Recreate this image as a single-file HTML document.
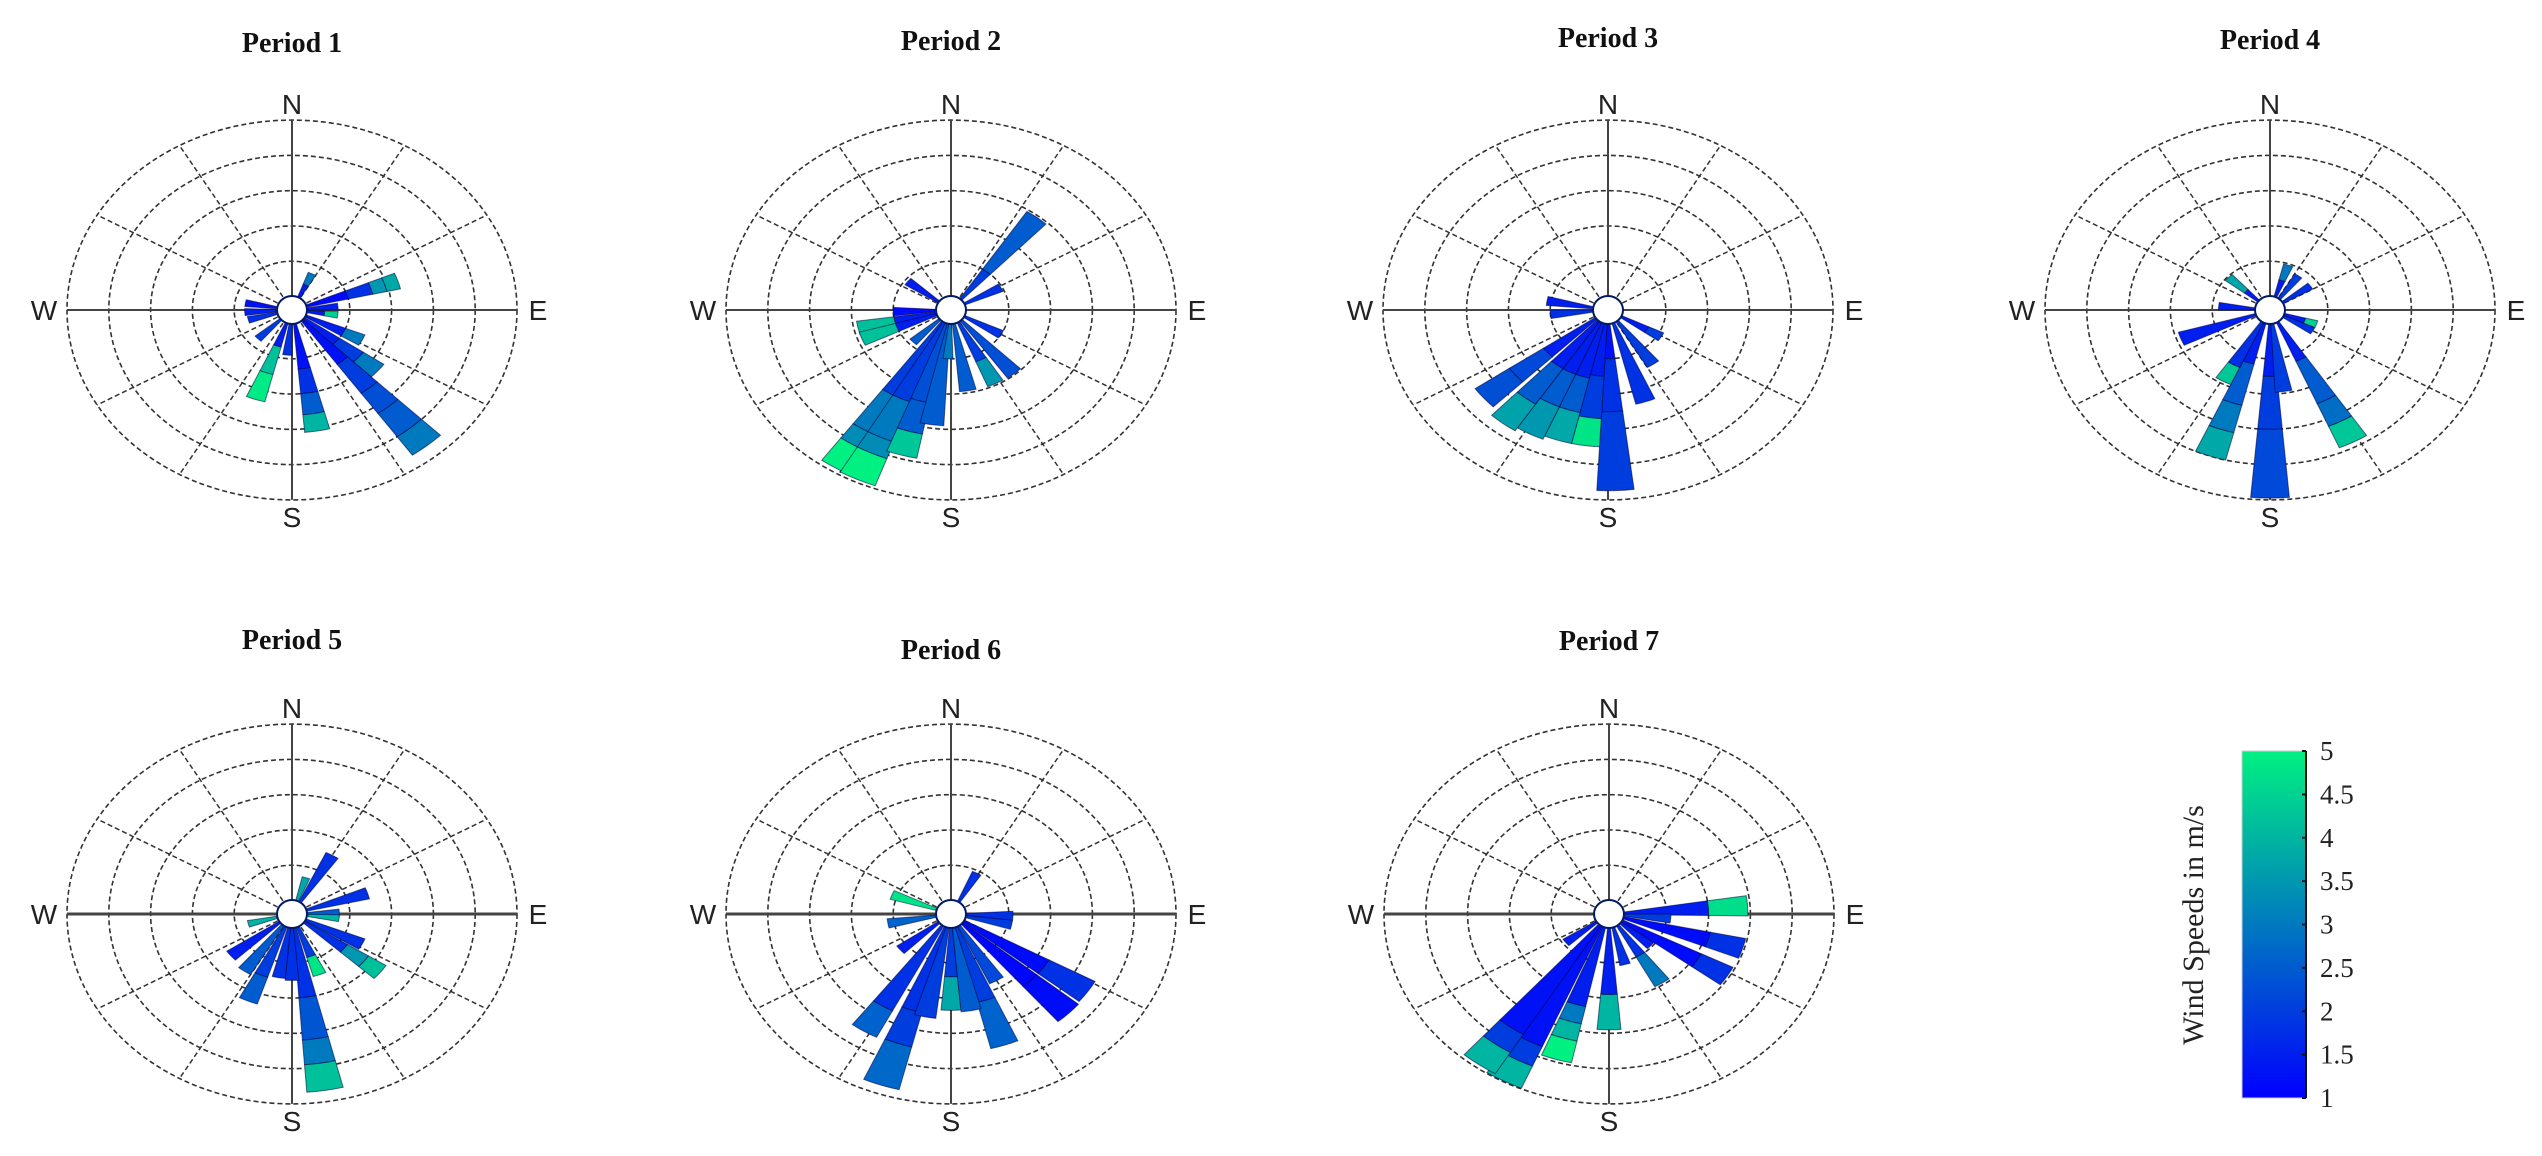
<!DOCTYPE html>
<html><head><meta charset="utf-8"><style>
html,body{margin:0;padding:0;background:#fff;}
svg{display:block}
</style></head><body>
<svg id="chart" xmlns="http://www.w3.org/2000/svg" width="2542" height="1156" viewBox="0 0 2542 1156">
<defs>
<linearGradient id="cbar" x1="0" y1="1" x2="0" y2="0">
<stop offset="0" stop-color="rgb(0,0,255)"/><stop offset="0.5" stop-color="rgb(0,122,191)"/><stop offset="1" stop-color="rgb(0,240,130)"/>
</linearGradient>
</defs>
<g id="roses"></g>
<g>
<rect x="2242" y="751" width="64" height="347" fill="url(#cbar)" stroke="#ccc" stroke-width="1"/>
<line x1="2306" y1="751" x2="2306" y2="1098" stroke="#111" stroke-width="2"/>
<g id="cbticks"></g>
<text transform="translate(2203,925) rotate(-90)" text-anchor="middle" font-family="Liberation Serif, serif" font-size="30" fill="#222">Wind Speeds in m/s</text>
</g>
</svg>
<script>
const centers = [[292,310],[951,310],[1608,310],[2270,310],[292,914],[951,914],[1609,914]];
const titleY = [43,41,38,40,640,650,641];
const titles = ["Period 1","Period 2","Period 3","Period 4","Period 5","Period 6","Period 7"];

const p1Dir = [25,72,85,97,280,267,255,225,199,185,170,117,130,140];
const p1Seg = [[0.4,0.35],[1.0,0.6,0.35,0.33],[0.72],[0.4,0.32],[0.75],[0.75],[0.7],[0.77],[0.7,0.8,0.8],[0.9],[1.3,0.7,0.6,0.5],[1.0,0.5],[1.0,0.7,0.6],[1.5,1.0,0.7,0.8,0.64]];
const p1Spd = [[1.5,3],[1.2,1.8,3.5,3.8],[1.5],[1.5,4.5],[1.3],[1.5],[1.8],[2],[1.5,4.2,4.9],[1.8],[1.3,1.8,2.5,4.0],[1.5,3],[1.5,2,3],[1.3,2,2.3,2.5,3]];

const p2Dir = [38,62,308,268,257,249,225,211,205,196,188,183,170,153,140,120];
const p2Seg = [[1,1.95],[0.97],[0.93],[1.0],[1.0,0.9],[1.0,0.9],[0.9],[2.4,1.2,0.5,0.78],[2.4,1.2,0.5,0.82],[2.3,0.9,0.7],[2.9],[1.0],[1.94],[1.2,0.76],[1.97],[1.0]];
const p2Spd = [[2,2.5],[1.8],[1.5],[1.2],[1.5,4.2],[1.5,4.2],[2.5],[2,3,3.3,5],[2,3,3.3,5],[2.3,2.5,4.3],[2.5],[3],[2.5],[2,3.5],[2.3],[1.8]];

const p3Dir = [280,265,121,145,161,178,188,198,208,218,230];
const p3Seg = [[1.1],[1.0],[0.7,0.4],[1.5],[2.37],[1.0,1.5,2.24],[1.5,1.2,0.8],[1.6,1.0,0.9],[1.6,1.0,1.0],[1.6,1.2,0.9],[1.5,1.0,1.0]];
const p3Spd = [[1.5],[1.8],[1.5,2],[2],[1.8],[1.3,1.8,2],[1.5,2,4.8],[1.5,2.5,3.8],[1.5,2.5,3.5],[1.5,2.5,3.7],[1.5,2.2,2.3]];

const p4Dir = [180,172,199,152,209,249,275,313,19,35,55,110,120];
const p4Seg = [[1.5,1.5,1.95],[1.95],[1.2,1.2,0.8,0.8],[1.2,1.3,0.7,0.66],[1.4,0.53],[1.9],[0.85],[0.4,0.57],[0.5,0.46],[0.8],[0.8],[0.5,0.3],[0.8]];
const p4Spd = [[1.5,2,2.2],[2],[1.5,2.5,3,3.8],[1.5,2.5,2.8,4.3],[1.8,4.3],[1.5],[1.5],[1.5,3.8],[1.5,3],[2],[1.8],[1.5,4.5],[1.8]];

const p5Dir = [30,18,72,88,96,117,128,159,171,180,190,203,215,231,255];
const p5Seg = [[1.54],[0.7],[1.52],[0.75],[0.75],[1.5],[1.2,0.6,0.5],[0.9,0.56],[2.0,1.2,0.7,0.78],[1.5],[1.45],[1.5,0.8],[1.6],[1.5],[0.7]];
const p5Spd = [[1.8],[3.8],[1.8],[2.5],[4],[1.8],[1.8,3.5,4.2],[2,4.8],[1.8,2.4,3,4.2],[1.8],[1.8],[2,2.5],[2.5],[1.5],[4]];

const p6Dir = [28,291,260,92,102,124,135,161,150,180,170,199,212,192,230];
const p6Seg = [[0.93],[1.13],[1.15],[1.1],[1.1],[2.3,1.26],[2.3,1.3],[2.2,1.35],[1.8],[1.4,0.95],[2.4],[2.5,1.0,1.25],[2.7,0.84],[2.6],[1.2]];
const p6Spd = [[1.8],[4.8],[2.6],[1.8],[2],[1.2,1.8],[1.1,1.2],[2,2.6],[2.2],[2,3.8],[2.5],[1.8,2,2.7],[1.8,2.6],[2],[1.5]];

const p7Dir = [86,95,107,122,132,147,165,180,197,208,216,232];
const p7Seg = [[2.0,0.94],[1.1],[2.1,0.86],[2.1,0.85],[0.96],[1.0,0.95],[1.1],[1.9,1.0],[2.3,0.5,0.5,0.63],[3.7,0.6,0.68],[3.6,0.6,0.7],[0.93]];
const p7Spd = [[1.5,4.7],[2],[1.2,1.8],[1.2,1.8],[1.5],[1.8,3],[1.8],[1.5,4],[1.5,3,4,5],[1.3,2,4],[1.3,2,4],[1.5]];

const cbTicks = [1,1.5,2,2.5,3,3.5,4,4.5,5];

const allDir=[p1Dir,p2Dir,p3Dir,p4Dir,p5Dir,p6Dir,p7Dir];
const allSeg=[p1Seg,p2Seg,p3Seg,p4Seg,p5Seg,p6Seg,p7Seg];
const allSpd=[p1Spd,p2Spd,p3Spd,p4Spd,p5Spd,p6Spd,p7Spd];

const NS="http://www.w3.org/2000/svg";
const RX0=16, RU=41.8, YR=0.844, HALF=5;
function rad(v){return RX0+RU*v;}
function pt(cx,cy,R,deg){const a=deg*Math.PI/180;return [cx+R*Math.sin(a), cy-R*YR*Math.cos(a)];}
function color(s){let t=(s-1)/4;t=Math.max(0,Math.min(1,t));
  let g,b; if(t<0.5){g=244*t;b=255-128*t;}else{g=122+236*(t-0.5);b=191-122*(t-0.5);}
  return `rgb(0,${Math.round(g)},${Math.round(b)})`;}
function el(tag,attrs,parent){const e=document.createElementNS(NS,tag);for(const k in attrs)e.setAttribute(k,attrs[k]);parent.appendChild(e);return e;}

const roses=document.getElementById('roses');
for(let p=0;p<7;p++){
  const [cx,cy]=centers[p];
  const g=el('g',{},roses);
  
  
  // rings
  for(let k=1;k<=5;k++){
    const r=rad(k);
    const c=el('ellipse',{cx:cx,cy:cy,rx:r,ry:r*YR,fill:'none',stroke:'#333','stroke-width':1.6,'stroke-dasharray':'5,3'},g);
    
    
  }
  // spokes
  for(let a=0;a<360;a+=30){
    const [x,y]=pt(cx,cy,rad(5),a);
    const main=(a%90===0);
    const l=el('line',{x1:cx,y1:cy,x2:x,y2:y,stroke:main?'#444':'#333','stroke-width':main?(p>=4&&a%180!==0?3:2):1.5},g);
    if(!main)l.setAttribute('stroke-dasharray','5,3');
    
    
  }
  // bars
  const dirs=allDir[p],segs=allSeg[p],spds=allSpd[p];
  for(let i=0;i<dirs.length;i++){
    let v0=0;
    for(let j=0;j<segs[i].length;j++){
      const v1=v0+segs[i][j];
      const r0=rad(v0), r1=rad(v1);
      const pts=[];
      for(let s=0;s<=4;s++){pts.push(pt(cx,cy,r1,dirs[i]-HALF+s*HALF/2));}
      for(let s=4;s>=0;s--){pts.push(pt(cx,cy,r0,dirs[i]-HALF+s*HALF/2));}
      const poly=el('polygon',{points:pts.map(q=>q[0].toFixed(1)+','+q[1].toFixed(1)).join(' '),fill:color(spds[i][j]),stroke:'rgba(0,0,60,0.55)','stroke-width':1},g);
      
      
      v0=v1;
    }
  }
  // hole
  const h=el('ellipse',{cx:cx,cy:cy,rx:15,ry:14,fill:'#fff',stroke:'#001a66','stroke-width':2},g);
  
  
  // labels
  const lab=[['N',cx,cy-206],['S',cx,cy+207],['W',cx-248,cy],['E',cx+246,cy]];
  for(const [t,x,y] of lab){
    const tx=el('text',{x:x,y:y+10,'text-anchor':'middle','font-family':'Liberation Sans, sans-serif','font-size':28,fill:'#222'},g);
    tx.textContent=t;
    
    
  }
  const tt=el('text',{x:cx,y:titleY[p]+9,'text-anchor':'middle','font-family':'Liberation Serif, serif','font-weight':'bold','font-size':28,fill:'#111'},g);
  tt.textContent=titles[p];
  
  
}
// colorbar ticks
const cbg=document.getElementById('cbticks');
for(const t of cbTicks){
  const y=1098-(t-1)/4*347;
  const l=el('line',{x1:2302,y1:y,x2:2306,y2:y,stroke:'#111','stroke-width':2},cbg);
  
  
  const tx=el('text',{x:2320,y:y+9,'font-family':'Liberation Serif, serif','font-size':27,fill:'#222'},cbg);
  tx.textContent=String(t);
  
  
}
</script>
</body></html>
